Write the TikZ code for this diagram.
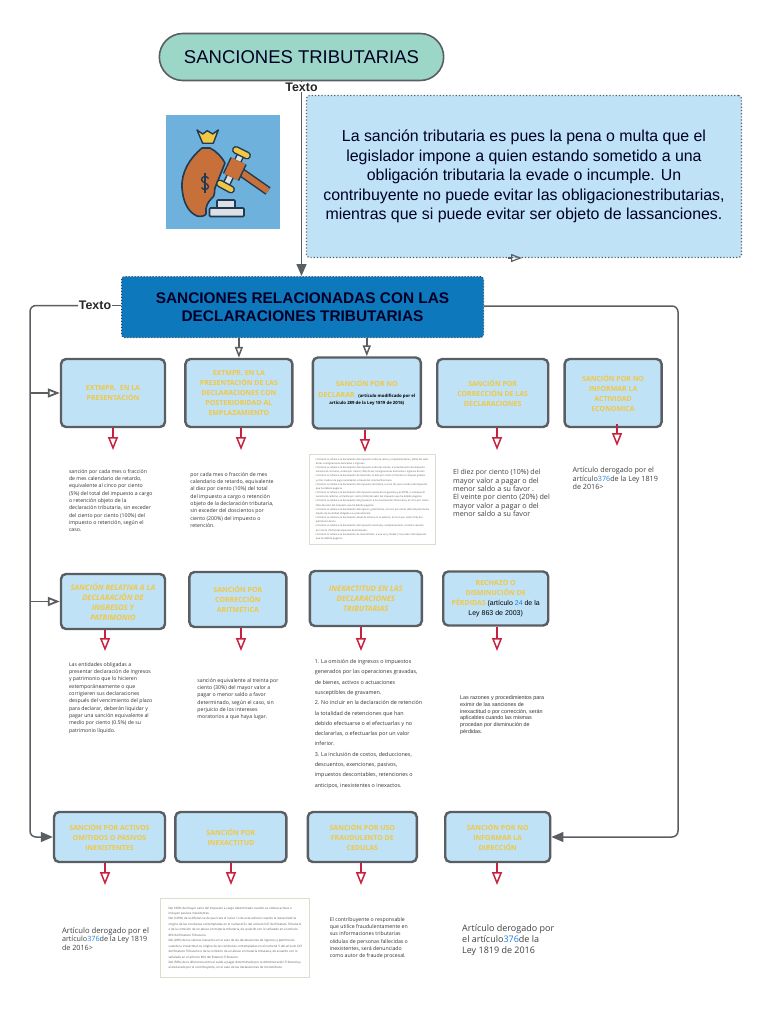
\documentclass[tikz,border=0pt]{standalone}
\usepackage{fontspec}
\setmainfont{Liberation Sans}
\newfontfamily\bodyfont{Open Sans}
\usepackage{xcolor}
\definecolor{cellblue}{HTML}{BFE2F6}
\definecolor{mintfill}{HTML}{9BD6C6}
\definecolor{deepblue}{HTML}{0E78BD}
\definecolor{wiregray}{HTML}{5A5E62}
\definecolor{alertred}{HTML}{C8203F}
\definecolor{goldtext}{HTML}{F2C744}
\definecolor{linkblue}{HTML}{1E7FE0}
\definecolor{scanedge}{HTML}{D9DFCF}
\definecolor{iconback}{HTML}{6FB1DD}
\definecolor{iconink}{HTML}{1F3A52}
\definecolor{bagorange}{HTML}{C8703A}
\usetikzlibrary{shapes.misc, arrows.meta, positioning}
\tikzset{
  headline/.style={
    rounded rectangle, draw=wiregray, line width=1.6pt, fill=mintfill,
    minimum width=291pt, minimum height=47pt, text=black!85!blue,
    font=\fontsize{18.5}{24}\selectfont
  },
  infobox/.style={
    rectangle, rounded corners=3pt, draw=wiregray, dotted, line width=1.2pt, fill=cellblue,
    minimum width=435pt, minimum height=162pt, align=center, text=black!85!blue,
    font=\fontsize{15.9}{19.6}\selectfont
  },
  mainbox/.style={
    rectangle, rounded corners=3pt, draw=iconink, dotted, line width=1pt, fill=deepblue,
    minimum width=362pt, minimum height=61pt, align=center, text=black!85!blue,
    font=\fontsize{15.4}{18.5}\selectfont\bfseries
  },
  cell/.style={
    rectangle, rounded corners=5pt, draw=wiregray, line width=2.4pt, fill=cellblue,
    align=center, inner sep=1pt, text=goldtext,
    font=\bodyfont\fontsize{7}{10}\selectfont\bfseries
  },
  note/.style={inner sep=0pt, align=left, text=black!80, font=\bodyfont\fontsize{5.2}{7.3}\selectfont},
  bignote/.style={inner sep=0pt, align=left, text=black!75, font=\bodyfont\fontsize{7.2}{8.4}\selectfont},
  scan/.style={
    rectangle, draw=scanedge, line width=1pt, fill=white, inner sep=0pt,
    align=left, text=black!65, font=\bodyfont\fontsize{2.45}{4.16}\selectfont
  },
  tag/.style={inner sep=0.5pt, font=\fontsize{12.4}{14}\selectfont\bfseries, text=black!85},
  wire/.style={line width=1.5pt, draw=wiregray, rounded corners=6pt},
  solidhead/.style={wire, -{Triangle[length=12pt,width=10pt]}},
  openhead/.style={wire, -{Triangle[open,length=11pt,width=8pt]}},
  bighead/.style={wire, line width=1.8pt, -{Triangle[open,length=12pt,width=9pt]}},
  alert/.style={line width=1.5pt, draw=alertred, -{Triangle[open,length=13pt,width=10pt]}},
}
\begin{document}
\begin{tikzpicture}[x=1pt,y=-1pt]
  \useasboundingbox (0,0) rectangle (768,1024);

  % cabecera
  \node (title)   [headline] at (301.5,57) {SANCIONES TRIBUTARIAS};
  \node (texttop) [tag, below=1pt of title] {Texto};
  \node (info)    [infobox] at (524,176.5) {La sanción tributaria es pues la pena o multa que el\\
    legislador impone a quien estando sometido a una\\
    obligación tributaria la evade o incumple. Un\\
    contribuyente no puede evitar las obligacionestributarias,\\
    mientras que si puede evitar ser objeto de lassanciones.};
  \node (main)    [mainbox] at (302.5,307) {SANCIONES RELACIONADAS CON LAS\\DECLARACIONES TRIBUTARIAS};
  \node (textleft) [tag] at (95,305.5) {Texto};

  % icono
  \fill [iconback] (166,115) rectangle (280,229);
  \draw [iconink, line width=1.6pt, fill=bagorange, line join=round]
    (202,148) .. controls (190,158) and (181,172) .. (182,188)
    .. controls (183,202) and (188,212) .. (197,216)
    .. controls (201,217) and (205,216) .. (206,214)
    .. controls (205,207) and (208,202) .. (211,199)
    .. controls (216,196) and (214,190) .. (215,188)
    -- (219,178) -- (225,163)
    .. controls (222,157) and (216,151) .. (210,148) -- cycle;
  \draw [iconink, line width=1.4pt, fill=goldtext, line join=round]
    (197,130) -- (202.7,134) -- (207.3,130.7) -- (212.7,134) -- (218.3,130) -- (213.3,143.3) -- (202.7,143.3) -- cycle;
  \draw [iconink, line width=1.3pt]
    (208.5,178.5) .. controls (207,175.5) and (201.5,176) .. (201.5,179.5)
    .. controls (201.5,183) and (208.5,183) .. (208.5,186.5)
    .. controls (208.5,190) and (203,190.5) .. (201.5,187.5);
  \draw [iconink, line width=1.3pt] (205,173) -- (205,193);
  \draw [iconink, line width=9pt] (238,170) -- (268,191);
  \draw [bagorange, line width=6pt] (238,170) -- (268,191);
  \draw [iconink, line width=8pt] (241.7,153) -- (225,187);
  \draw [white!85!iconink, line width=5pt] (241.7,153) -- (225,187);
  \draw [iconink, line width=18pt] (238.6,161) -- (231,177);
  \draw [bagorange, line width=15pt] (238.6,161) -- (231,177);
  \draw [iconink, line width=8pt, line cap=round] (236,150) -- (247,155.5);
  \draw [goldtext, line width=5pt, line cap=round] (236,150) -- (247,155.5);
  \draw [iconink, line width=8pt, line cap=round] (220,183.5) -- (231,189.5);
  \draw [goldtext, line width=5pt, line cap=round] (220,183.5) -- (231,189.5);
  \draw [iconink, line width=1.6pt, fill=white!85!iconink, rounded corners=1pt] (217,200) rectangle (235,208);
  \draw [iconink, line width=1.6pt, fill=white!85!iconink, rounded corners=1pt] (209.5,208) rectangle (244,216.5);

  % primera fila
  \node (extuno) [cell, minimum width=104pt, minimum height=68pt] at (113,393) {EXTMPR.\ \ EN LA\\PRESENTACIÓN};
  \node (extdos) [cell, right=18pt of extuno, minimum width=107pt, minimum height=68pt] {EXTMPR. EN LA\\PRESENTACIÓN DE LAS\\DECLARACIONES CON\\POSTERIORIDAD AL\\EMPLAZAMIENTO};
  \node (nodecl) [cell, right=18pt of extdos, minimum width=108pt, minimum height=71pt] {SANCIÓN POR NO\\[1pt]DECLARAR\ \ {\color{black}\fontsize{4.3}{6}\selectfont(artículo modificado por el}\\[-3pt]{\color{black}\fontsize{4.3}{6}\selectfont artículo 289 de la Ley 1819 de 2016)}};
  \node (correc) [cell, right=14pt of nodecl, minimum width=111pt, minimum height=68pt] {SANCIÓN POR\\CORRECCIÓN DE LAS\\DECLARACIONES};
  \node (noact)  [cell, right=14pt of correc, minimum width=97pt, minimum height=68pt] {SANCIÓN POR NO\\INFORMAR LA\\ACTIVIDAD\\ECONOMICA};

  \node (txtuno) [note, below right=41pt and 9pt of extuno.south west] {sanción por cada mes o fracción\\
    de mes calendario de retardo,\\
    equivalente al cinco por ciento\\
    (5\%) del total del impuesto a cargo\\
    o retención objeto de la\\
    declaración tributaria, sin exceder\\
    del ciento por ciento (100\%) del\\
    impuesto o retención, según el\\
    caso.};
  \node (txtdos) [note, below right=44pt and 6pt of extdos.south west] {por cada mes o fracción de mes\\
    calendario de retardo, equivalente\\
    al diez por ciento (10\%) del total\\
    del impuesto a cargo o retención\\
    objeto de la declaración tributaria,\\
    sin exceder del doscientos por\\
    ciento (200\%) del impuesto o\\
    retención.};
  \node (txtdecl) [scan, below=24pt of nodecl, xshift=5.5pt, minimum width=126pt, minimum height=90pt] {\textbullet\ Omisión se refiera a la declaración del impuesto sobre la renta y complementarios, (20\%) del valor\\
    \ de las consignaciones bancarias o ingresos.\\
    \textbullet\ Omisión se refiera a la declaración del impuesto sobre las ventas, a la declaración del impuesto\\
    \ nacional al consumo, al diez por ciento (10\%) de las consignaciones bancarias o ingresos brutos.\\
    \textbullet\ Omisión se refiera a la declaración de retención, al diez por ciento (10\%) de los cheques girados\\
    \ y otros medios de pago canalizados a través del sistema financiero.\\
    \textbullet\ Omisión se refiera a la declaración del impuesto de timbre, a cinco (5) veces el valor del impuesto\\
    \ que ha debido pagarse.\\
    \textbullet\ Omisión se refiera a la declaración del impuesto nacional a la gasolina y al ACPM, o al impuesto\\
    \ nacional al carbono, al treinta por ciento (30\%) del valor del impuesto que ha debido pagarse.\\
    \textbullet\ Omisión se refiera a la declaración del gravamen a los movimientos financieros, al cinco por ciento\\
    \ (5\%) del valor del impuesto que ha debido pagarse.\\
    \textbullet\ Omisión se refiera a la declaración del ingreso y patrimonio, al cinco por ciento (5\%) del patrimonio\\
    \ líquido de la entidad obligada a su presentación.\\
    \textbullet\ Omisión se refiera a la declaración anual de activos en el exterior, al cinco por ciento (5\%) del\\
    \ patrimonio bruto.\\
    \textbullet\ Omisión se refiera a la declaración del impuesto nacional y complementario, al ciento sesenta\\
    \ por ciento (160\%) del impuesto determinado.\\
    \textbullet\ Omisión se refiera a la declaración de monotributo, a una vez y media (1.5) el valor del impuesto\\
    \ que ha debido pagarse.};
  \node (txtcorr) [bignote, below right=41pt and 17pt of correc.south west] {\fontsize{7}{8.3}\selectfont El diez por ciento (10\%) del\\
    mayor valor a pagar o del\\
    menor saldo a su favor .\\
    El veinte por ciento (20\%) del\\
    mayor valor a pagar o del\\
    menor saldo a su favor};
  \node (txtact)  [bignote, below right=39pt and 9pt of noact.south west] {Artículo derogado por el\\
    artículo\textcolor{linkblue}{376}de la Ley 1819\\
    de 2016>};

  \coordinate (tipuno) at (113,450);
  \coordinate (tipdos) at (241,450);
  \coordinate (tipdecl) at (365,452);
  \coordinate (tipcorr) at (497,450);
  \coordinate (tipact) at (617,446);
  \draw [alert] (tipuno |- extuno.south)  -- (tipuno);
  \draw [alert] (tipdos |- extdos.south)  -- (tipdos);
  \draw [alert] (tipdecl |- nodecl.south) -- (tipdecl);
  \draw [alert] (tipcorr |- correc.south) -- (tipcorr);
  \draw [alert] ([yshift=4pt]tipact |- noact.south) -- (tipact);

  % segunda fila
  \node (relat)  [cell, minimum width=104pt, minimum height=55pt, font=\bodyfont\fontsize{7.6}{10}\selectfont\bfseries\itshape] at (113,601.5) {SANCIÓN RELATIVA A LA\\DECLARACIÓN DE\\INGRESOS Y\\PATRIMONIO};
  \node (aritm)  [cell, right=22pt of relat, yshift=2pt, minimum width=97pt, minimum height=55pt] {SANCIÓN POR\\CORRECCIÓN\\ARITMETICA};
  \node (inexa)  [cell, right=21pt of aritm, yshift=1pt, minimum width=112pt, minimum height=55pt, font=\bodyfont\fontsize{7.6}{10}\selectfont\bfseries\itshape] {INEXACTITUD EN LAS\\DECLARACIONES\\TRIBUTARIAS};
  \node (rechazo) [cell, right=19pt of inexa, minimum width=105pt, minimum height=54pt] {RECHAZO O\\DISMINUCIÓN DE\\PÉRDIDAS {\color{black}\mdseries\rmfamily (artículo \textcolor{linkblue}{24} de la}\\{\color{black}\mdseries\rmfamily Ley 863 de 2003)}};

  \node (txtrel)  [note, below right=32pt and 9pt of relat.south west] {Las entidades obligadas a\\
    presentar declaración de ingresos\\
    y patrimonio que lo hicieren\\
    extemporáneamente o que\\
    corrigieren sus declaraciones\\
    después del vencimiento del plazo\\
    para declarar, deberán liquidar y\\
    pagar una sanción equivalente al\\
    medio por ciento (0.5\%) de su\\
    patrimonio líquido.};
  \node (txtari)  [note, below right=50pt and 9pt of aritm.south west] {sanción equivalente al treinta por\\
    ciento (30\%) del mayor valor a\\
    pagar o menor saldo a favor\\
    determinado, según el caso, sin\\
    perjuicio de los intereses\\
    moratorios a que haya lugar.};
  \node (txtine)  [note, below right=32pt and 6pt of inexa.south west, font=\bodyfont\fontsize{5.4}{10.3}\selectfont] {1. La omisión de ingresos o impuestos\\
    generados por las operaciones gravadas,\\
    de bienes, activos o actuaciones\\
    susceptibles de gravamen.\\
    2. No incluir en la declaración de retención\\
    la totalidad de retenciones que han\\
    debido efectuarse o el efectuarlas y no\\
    declararlas, o efectuarlas por un valor\\
    inferior.\\
    3. La inclusión de costos, deducciones,\\
    descuentos, exenciones, pasivos,\\
    impuestos descontables, retenciones o\\
    anticipos, inexistentes o inexactos.};
  \node (txtrec)  [note, below right=69pt and 18pt of rechazo.south west, font=\fontsize{5.4}{6.7}\selectfont] {Las razones y procedimientos para\\
    eximir de las sanciones de\\
    inexactitud o por corrección, serán\\
    aplicables cuando las mismas\\
    procedan por disminución de\\
    pérdidas.};

  \coordinate (tiprel) at (105,651);
  \coordinate (tipari) at (241,651);
  \coordinate (tipine) at (361,651);
  \coordinate (tiprec) at (497,651);
  \draw [alert] (tiprel |- relat.south)   -- (tiprel);
  \draw [alert] (tipari |- aritm.south)   -- (tipari);
  \draw [alert] (tipine |- inexa.south)   -- (tipine);
  \draw [alert] (tiprec |- rechazo.south) -- (tiprec);

  % tercera fila
  \node (activos) [cell, minimum width=111pt, minimum height=50pt] at (109.5,837) {SANCIÓN POR ACTIVOS\\OMITIDOS O PASIVOS\\INEXISTENTES};
  \node (sinex)   [cell, right=8pt of activos, minimum width=111pt, minimum height=50pt] {SANCIÓN POR\\INEXACTITUD};
  \node (cedulas) [cell, right=19pt of sinex, minimum width=109pt, minimum height=50pt] {SANCIÓN POR USO\\FRAUDULENTO DE\\CEDULAS};
  \node (direcc)  [cell, right=26pt of cedulas, minimum width=105pt, minimum height=50pt] {SANCIÓN POR NO\\INFORMAR LA\\DIRECCIÓN};

  \node (txtacti) [bignote, below right=64pt and 9pt of activos.south west] {\fontsize{7.7}{8.6}\selectfont Artículo derogado por el\\
    artículo\textcolor{linkblue}{376}de la Ley 1819\\
    de 2016>};
  \node (txtsin)  [scan, below=35pt of sinex, xshift=4.5pt, minimum width=149pt, minimum height=79pt, font=\bodyfont\fontsize{3}{5.45}\selectfont] {Del 100\% del mayor valor del impuesto a cargo determinado cuando se omitan activos o\\
    incluyan pasivos inexistentes.\\
    Del (160\%) de la diferencia de que trata el inciso 1o de este artículo cuando la inexactitud se\\
    origine de las conductas contempladas en el numeral 5o del artículo 647 del Estatuto Tributario\\
    o de la comisión de un abuso en materia tributaria, de acuerdo con lo señalado en el artículo\\
    869 del Estatuto Tributario.\\
    Del (20\%) de los valores inexactos en el caso de las declaraciones de ingresos y patrimonio,\\
    cuando la inexactitud se origine de las conductas contempladas en el numeral 5 del artículo 647\\
    del Estatuto Tributario o de la comisión de un abuso en materia tributaria, de acuerdo con lo\\
    señalado en el artículo 869 del Estatuto Tributario.\\
    Del (50\%) de la diferencia entre el saldo a pagar determinado por la Administración Tributaria y\\
    el declarado por el contribuyente, en el caso de las declaraciones de monotributo.};
  \node (txtced)  [note, below right=54pt and 23pt of cedulas.south west] {El contribuyente o responsable\\
    que utilice fraudulentamente en\\
    sus informaciones tributarias\\
    cédulas de personas fallecidas o\\
    inexistentes, será denunciado\\
    como autor de fraude procesal.};
  \node (txtdir)  [bignote, below right=61pt and 18pt of direcc.south west, font=\bodyfont\fontsize{9}{11}\selectfont] {Artículo derogado por\\
    el artículo\textcolor{linkblue}{376}de la\\
    Ley 1819 de 2016};

  \coordinate (tipacti) at (105,885);
  \coordinate (tipsin) at (231,885);
  \coordinate (tipced) at (361,885);
  \coordinate (tipdir) at (497,885);
  \draw [alert] (tipacti |- activos.south) -- (tipacti);
  \draw [alert] (tipsin |- sinex.south)    -- (tipsin);
  \draw [alert] (tipced |- cedulas.south)  -- (tipced);
  \draw [alert] (tipdir |- direcc.south)   -- (tipdir);

  % conectores
  \coordinate (trunkleft)  at (30,305.5);
  \coordinate (trunkright) at (678,306);
  \coordinate (infotip)    at (522,258);
  \draw [wire] (title.south) -- (texttop.north);
  \draw [solidhead, rounded corners=0pt] (texttop.south) -- (texttop.south |- main.north);
  \draw [line width=1.2pt, wiregray, -{Triangle[open,length=11pt,width=8pt]}] (infotip -| info.south) ++(-16,0) -- (infotip);
  \draw [openhead] (extdos.north |- main.south) -- (extdos.north);
  \draw [openhead] (nodecl.north |- main.south) -- (nodecl.north);
  \draw [wire] (main.west |- textleft) -- (textleft.east);
  \draw [solidhead] (textleft.west) -- (trunkleft) -- (trunkleft |- activos.west) -- (activos.west);
  \draw [solidhead] (main.east |- trunkright) -- (trunkright) -- (trunkright |- direcc.east) -- (direcc.east);
  \draw [bighead] (trunkleft |- extuno.west) -- (extuno.west);
  \draw [bighead] (trunkleft |- relat.west) -- (relat.west);
\end{tikzpicture}
\end{document}
